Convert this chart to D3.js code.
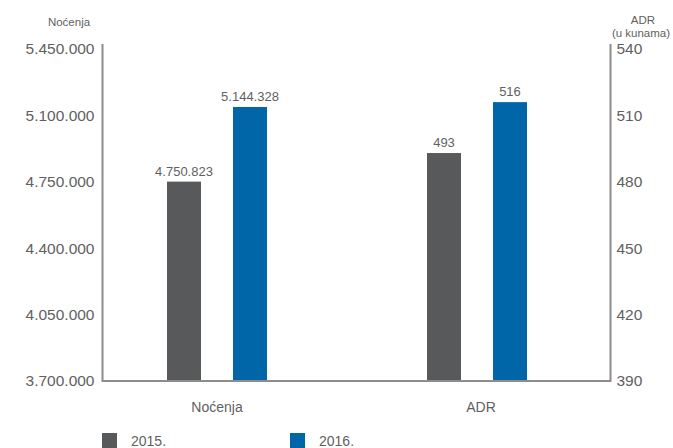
<!DOCTYPE html>
<meta charset="utf-8">
<style>
  body { margin: 0; background: #fff; }
  text { font-family: "Liberation Sans", Arial, sans-serif; fill: #5f5f5f; }
  .axis .domain { display: none; }
</style>
<svg width="673" height="448"></svg>
<script src="https://d3js.org/d3.v7.min.js"></script>
<script>

var categories = ["Noćenja", "ADR"];
var years = ["2015.", "2016."];
var nocenja = [4750823, 5144328];
var adr = [493, 516];
var leftTicks = [3700000, 4050000, 4400000, 4750000, 5100000, 5450000];
var rightTicks = [390, 420, 450, 480, 510, 540];
var colors = ["#58595b", "#0066a8"];

var svg = d3.select("svg");

var plotLeft = 102.5, plotRight = 610.5, plotTop = 49, plotBottom = 381;

var hr = d3.formatLocale({ decimal: ",", thousands: ".", grouping: [3], currency: ["", ""] });
var fmt = hr.format(",d");

var yL = d3.scaleLinear().domain([3700000, 5450000]).range([plotBottom, plotTop]);
var yR = d3.scaleLinear().domain([390, 540]).range([plotBottom, plotTop]);

var x0 = d3.scalePoint().domain(categories).range([217, 477]);
var x1 = d3.scaleBand().domain(years).range([-50, 50]).paddingInner(0.485);

// each category has its own value axis
var groups = [
  { name: categories[0], values: nocenja, y: yL },
  { name: categories[1], values: adr, y: yR }
];

// bars
groups.forEach(function(g) {
  var bars = svg.append("g")
      .attr("transform", "translate(" + x0(g.name) + ",0)");

  bars.selectAll("rect")
    .data(g.values)
    .enter().append("rect")
      .attr("x", function(d, i) { return x1(years[i]); })
      .attr("y", function(d) { return g.y(d); })
      .attr("width", x1.bandwidth())
      .attr("height", function(d) { return plotBottom - g.y(d); })
      .attr("fill", function(d, i) { return colors[i]; });

  bars.selectAll(".val")
    .data(g.values)
    .enter().append("text")
      .attr("class", "val")
      .attr("x", function(d, i) { return x1(years[i]) + x1.bandwidth() / 2; })
      .attr("y", function(d) { return g.y(d) - 6; })
      .attr("text-anchor", "middle")
      .style("font-size", "13px")
      .text(function(d) { return fmt(d); });
});

// axes
svg.append("g")
    .attr("class", "axis")
    .attr("transform", "translate(" + plotLeft + ",0)")
    .call(d3.axisLeft(yL).tickValues(leftTicks).tickSize(0).tickPadding(8).tickFormat(fmt))
  .selectAll("text")
    .style("font-size", "15.5px");

svg.append("g")
    .attr("class", "axis")
    .attr("transform", "translate(" + plotRight + ",0)")
    .call(d3.axisRight(yR).tickValues(rightTicks).tickSize(0).tickPadding(6))
  .selectAll("text")
    .style("font-size", "15.5px");

svg.append("path")
    .attr("d", "M" + plotLeft + ",44V" + plotBottom + "H" + plotRight + "V44")
    .attr("fill", "none")
    .attr("stroke", "#8c8c8c")
    .attr("stroke-width", 2);

// category labels
svg.selectAll(".cat")
  .data(categories)
  .enter().append("text")
    .attr("class", "cat")
    .attr("x", function(d, i) { return x0(d) + i * 4; })
    .attr("y", 412)
    .attr("text-anchor", "middle")
    .style("font-size", "14px")
    .text(function(d) { return d; });

// axis titles
svg.append("text")
    .attr("x", 69).attr("y", 26)
    .attr("text-anchor", "middle")
    .style("font-size", "11.5px")
    .text("Noćenja");

svg.append("text")
    .attr("x", 643).attr("y", 24)
    .attr("text-anchor", "middle")
    .style("font-size", "11.5px")
    .text("ADR");

svg.append("text")
    .attr("x", 641).attr("y", 37)
    .attr("text-anchor", "middle")
    .style("font-size", "11.5px")
    .text("(u kunama)");

// legend
var legend = svg.selectAll(".legend")
  .data(years)
  .enter().append("g")
    .attr("class", "legend")
    .attr("transform", function(d, i) { return "translate(" + (102 + i * 188) + ",433)"; });

legend.append("rect")
    .attr("width", 15)
    .attr("height", 15)
    .attr("fill", function(d, i) { return colors[i]; });

legend.append("text")
    .attr("x", 29)
    .attr("y", 13)
    .style("font-size", "14px")
    .text(function(d) { return d; });

</script>
